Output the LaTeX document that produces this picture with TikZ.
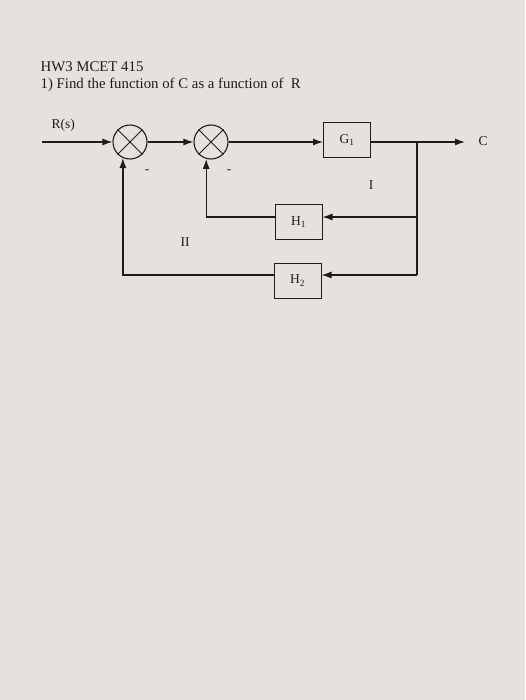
\documentclass[tikz,border=0pt]{standalone}
\usepackage{fontspec}
\setmainfont{Liberation Serif}
\usetikzlibrary{arrows.meta}
\definecolor{paper}{RGB}{229,226,222}
\definecolor{ink}{RGB}{30,28,27}
\begin{document}
\begin{tikzpicture}[x=1pt,y=-1pt,
  line width=1.3pt, draw=ink, text=ink,
  sumjunc/.style={circle,draw=ink,minimum size=34pt,inner sep=0pt,line width=1.1pt},
  blockbox/.style={draw=ink,minimum width=47pt,minimum height=35pt,inner sep=0pt,line width=1pt,font=\fontsize{13.5}{15}\selectfont},
  sig/.style={draw=ink,line width=1.3pt,-{Latex[length=10pt,width=7pt]}},
  wire/.style={draw=ink,line width=1.3pt},
  lbl/.style={inner sep=0pt,font=\fontsize{13.5}{15}\selectfont},
  titletext/.style={inner sep=0pt,anchor=base west,font=\fontsize{14.8}{17}\selectfont}
]
\fill[paper] (0,0) rectangle (525,700);
\useasboundingbox (0,0) rectangle (525,700);

\node[titletext] (t1) at (40,72) {HW3 MCET 415};
\node[titletext] (t2) at (40,89) {1) Find the function of C as a function of\ \ R};

\node[lbl,anchor=base west] (rs) at (51,129) {R(s)};

\node[sumjunc] (s1) at (130,142) {};
\node[sumjunc] (s2) at (211,142) {};
\foreach \s in {s1,s2}{
  \draw[line width=1pt] (\s.45) -- (\s.225);
  \draw[line width=1pt] (\s.135) -- (\s.-45);
}
\node[blockbox] (g1) at (347,140) {G\textsubscript{1}};
\node[blockbox] (h1) at (298.5,222.5) {H\textsubscript{1}};
\node[blockbox] (h2) at (297.5,280.5) {H\textsubscript{2}};

\coordinate (in) at (42,142);
\coordinate (b) at (417,142);
\coordinate (out) at (465,142);
\coordinate (r1) at (417,217);
\coordinate (r2) at (417,275);

\node[lbl,anchor=west] (c) at (478,141) {C};
\node[lbl] (m1) at (147,172) {-};
\node[lbl] (m2) at (229,172) {-};
\node[lbl] (one) at (371,185) {I};
\node[lbl] (two) at (185,242) {II};

\draw[sig] (in) -- (s1.west);
\draw[sig] (s1.east) -- (s2.west);
\draw[sig] (s2.east) -- (g1.west |- s2.east);
\draw[sig] (g1.east |- b) -- (out);
\draw[wire] (b) -- (r2);
\draw[sig] (r1) -- (r1 -| h1.east);
\draw[sig] (r2) -- (r2 -| h2.east);
\draw[sig] (h1.west |- r1) -| (s2.-106);
\draw[sig] (h2.west |- r2) -| (s1.-114);
\end{tikzpicture}
\end{document}
